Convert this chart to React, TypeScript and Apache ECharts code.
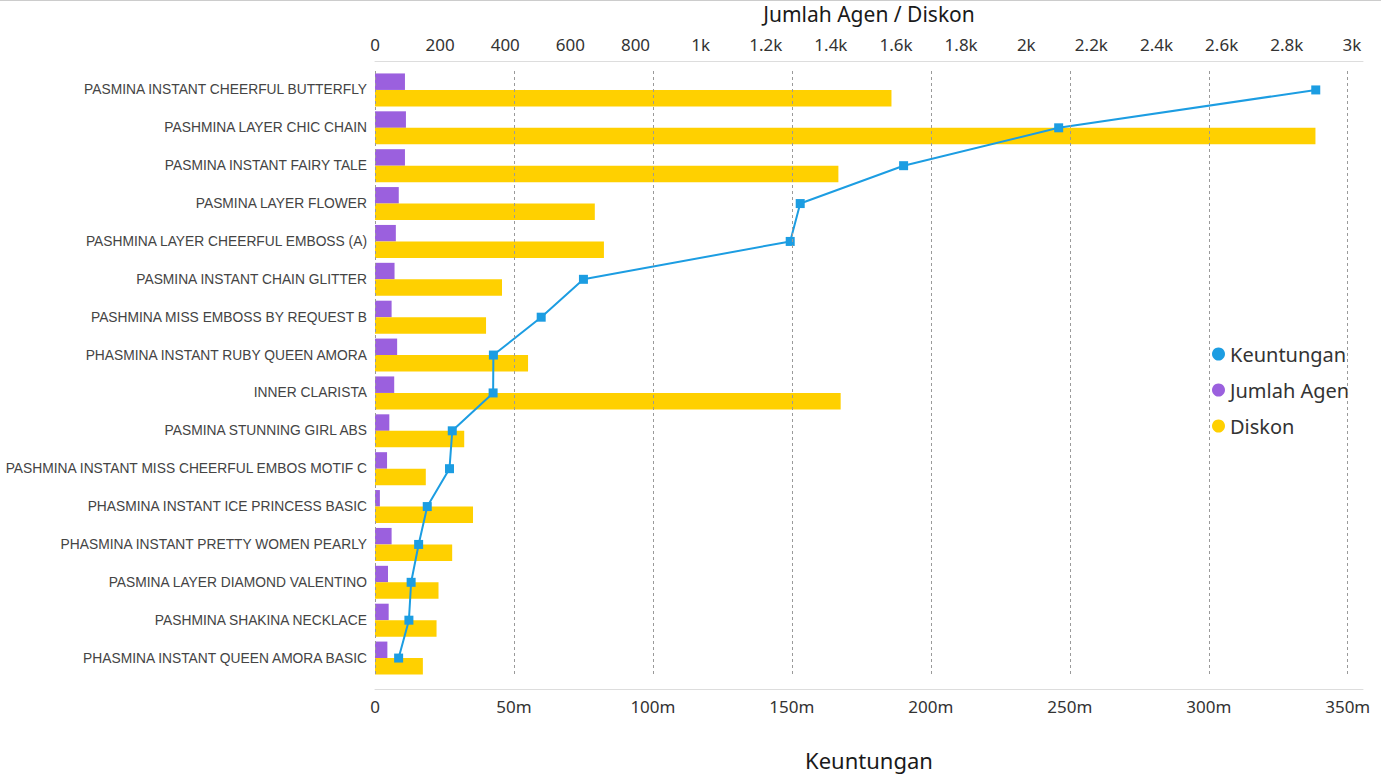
import React, { useEffect, useRef } from 'react';
import * as echarts from 'echarts';

const categories = [
  'PASMINA INSTANT CHEERFUL BUTTERFLY',
  'PASHMINA LAYER CHIC CHAIN',
  'PASMINA INSTANT FAIRY TALE',
  'PASMINA LAYER FLOWER',
  'PASHMINA LAYER CHEERFUL EMBOSS (A)',
  'PASMINA INSTANT CHAIN GLITTER',
  'PASHMINA MISS EMBOSS BY REQUEST B',
  'PHASMINA INSTANT RUBY QUEEN AMORA',
  'INNER CLARISTA',
  'PASMINA STUNNING GIRL ABS',
  'PASHMINA INSTANT MISS CHEERFUL EMBOS MOTIF C',
  'PHASMINA INSTANT ICE PRINCESS BASIC',
  'PHASMINA INSTANT PRETTY WOMEN PEARLY',
  'PASMINA LAYER DIAMOND VALENTINO',
  'PASHMINA SHAKINA NECKLACE',
  'PHASMINA INSTANT QUEEN AMORA BASIC',
];

const jumlahAgen = [92, 95, 92, 73, 64, 60, 51, 68, 59, 44, 37, 15, 51, 40, 42, 38];
const diskon = [1586, 2888, 1423, 675, 703, 390, 341, 470, 1430, 274, 156, 301, 237, 195, 189, 147];
// Keuntungan in millions
const keuntungan = [338.5, 246, 190.2, 153, 149.4, 75, 59.8, 42.6, 42.5, 27.8, 26.8, 18.8, 15.7, 13.0, 12.2, 8.5];

const keuntunganTicks = [0, 50, 100, 150, 200, 250, 300, 350];

const fontMain = '"Noto Sans", "Liberation Sans", sans-serif';
const fontLabel = '"Liberation Sans", Arial, sans-serif';

export default function App() {
  const ref = useRef<HTMLDivElement>(null);
  useEffect(() => {
    if (!ref.current) return;
    const chart = echarts.init(ref.current, undefined, { renderer: 'svg' });
    chart.setOption({
      animation: false,
      backgroundColor: '#fff',
      grid: {
        left: 375,
        right: 18,
        top: 71,
        bottom: 100,
        containLabel: false,
        outerBoundsMode: 'none',
      },
      graphic: [
        {
          type: 'line',
          shape: { x1: 0, y1: 0.5, x2: 1381, y2: 0.5 },
          style: { stroke: '#cccccc', lineWidth: 1 },
          silent: true,
        },
      ],
      legend: {
        orient: 'vertical',
        left: 1206,
        top: 334,
        backgroundColor: '#fff',
        padding: [10, 10, 10, 6],
        icon: 'circle',
        itemWidth: 13,
        itemHeight: 13,
        itemGap: 16,
        data: ['Keuntungan', 'Jumlah Agen', 'Diskon'],
        textStyle: { fontSize: 20, lineHeight: 20, color: '#333', fontFamily: fontMain },
      },
      xAxis: [
        {
          type: 'value',
          position: 'top',
          offset: 10,
          min: 0,
          max: 3034,
          interval: 200,
          name: 'Jumlah Agen / Diskon',
          nameLocation: 'middle',
          nameGap: 37,
          nameTextStyle: { fontSize: 21, color: '#1a1a1a', fontFamily: fontMain },
          axisLine: { show: true, lineStyle: { color: '#dddddd', width: 1 } },
          axisTick: { show: false },
          splitLine: { show: false },
          axisLabel: {
            margin: 8,
            fontSize: 17,
            color: '#333',
            fontFamily: fontMain,
            formatter: (v: number) => {
              if (v % 200 !== 0) return '';
              if (v === 0) return '0';
              return v >= 1000 ? `${v / 1000}k` : String(v);
            },
          },
        },
        {
          type: 'value',
          position: 'bottom',
          offset: 12,
          min: 0,
          max: 355.5,
          interval: 50,
          name: 'Keuntungan',
          nameLocation: 'middle',
          nameGap: 60,
          nameTextStyle: { fontSize: 22, color: '#1a1a1a', fontFamily: fontMain },
          axisLine: { show: true, lineStyle: { color: '#dddddd', width: 1 } },
          axisTick: { show: false },
          splitLine: { show: false },
          axisLabel: {
            margin: 9,
            fontSize: 17,
            color: '#333',
            fontFamily: fontMain,
            formatter: (v: number) => {
              if (v % 50 !== 0) return '';
              return v === 0 ? '0' : `${v}m`;
            },
          },
        },
      ],
      yAxis: {
        type: 'category',
        inverse: true,
        data: categories,
        axisLine: { show: false },
        axisTick: { show: false },
        splitLine: { show: false },
        axisLabel: { margin: 8, fontSize: 13.8, color: '#444', fontFamily: fontLabel },
      },
      series: [
        {
          name: 'grid',
          type: 'line',
          xAxisIndex: 1,
          data: [],
          z: 0,
          silent: true,
          markLine: {
            silent: true,
            symbol: 'none',
            label: { show: false },
            lineStyle: { type: [3, 3], color: '#9a9a9a', width: 1 },
            data: keuntunganTicks.map((t) => ({ xAxis: t })),
          },
        },
        {
          name: 'Jumlah Agen',
          type: 'bar',
          xAxisIndex: 0,
          data: jumlahAgen,
          barWidth: 16.5,
          barGap: '0%',
          z: 2,
          itemStyle: { color: '#9B60DE' },
        },
        {
          name: 'Diskon',
          type: 'bar',
          xAxisIndex: 0,
          data: diskon,
          barWidth: 16.5,
          barGap: '0%',
          z: 2,
          itemStyle: { color: '#FFD000' },
        },
        {
          name: 'Keuntungan',
          type: 'line',
          xAxisIndex: 1,
          data: keuntungan,
          z: 3,
          symbol: 'rect',
          symbolSize: 9,
          lineStyle: { color: '#1C9DE2', width: 2 },
          itemStyle: { color: '#1C9DE2' },
        },
      ],
    });
    return () => chart.dispose();
  }, []);
  return (
    <div
      ref={ref}
      style={{ position: 'fixed', left: 0, top: 0, width: 1381, height: 777, background: '#fff' }}
    />
  );
}
